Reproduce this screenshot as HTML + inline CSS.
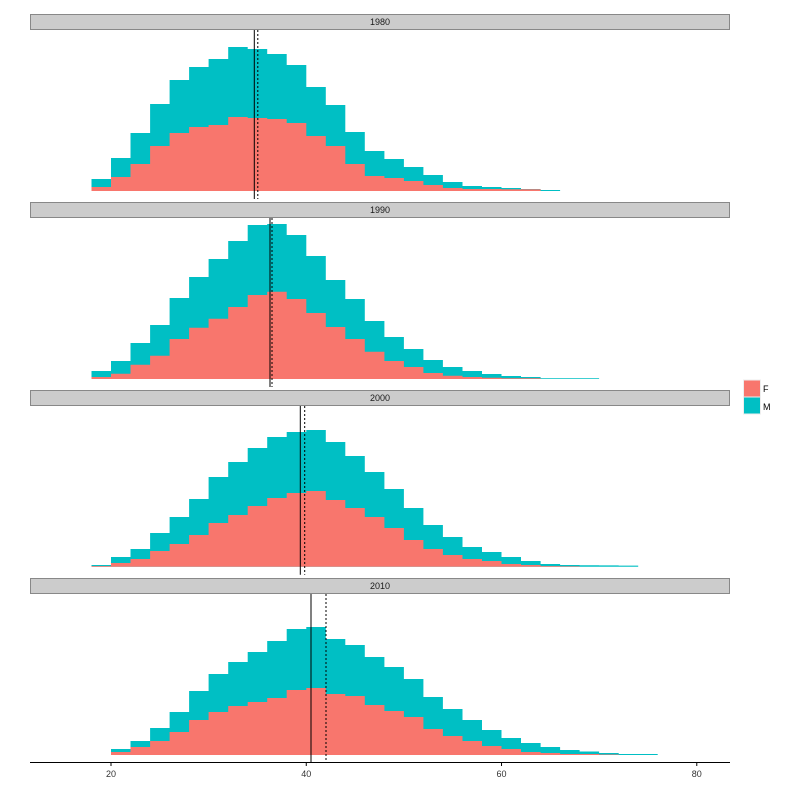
<!DOCTYPE html>
<html><head><meta charset="utf-8"><style>body{margin:0;background:#fff}svg{display:block}text{font-family:"Liberation Sans",sans-serif}</style></head>
<body><svg id="s" width="800" height="800" xmlns="http://www.w3.org/2000/svg"></svg>
<script>
var S=document.getElementById('s'),h='';
function X(v){return 111+(v-20)*9.763;}
var panels=[
 {y0:14,base:191,start:18,lab:'1980',ls:254.3,ld:257.8,
  T:[12,33,58,87,111,124,132,144,142,137,126,104,86,59,40,32,24,16,9,5,4,3,2,1],
  F:[4,14,27,45,58,64,66,74,73,72,68,55,45,27,15,13,10,6,3,2,2,1.7,1.7,0]},
 {y0:202,base:379,start:18,lab:'1990',ls:270,ld:272,
  T:[8,18,36,54,81,102,120,138,154,155,144,123,99,80,58,42,30,19,12,8,5,3,2,0.8,0.8,0.8],
  F:[2,5.3,14.3,23.3,40,51.3,60.3,72,84,87.3,80,66,52,40,27.3,18,12,6,3.3,2,1.3,0.7,0.7,0,0,0]},
 {y0:390,base:566.7,start:18,lab:'2000',ls:300.3,ld:304.7,
  T:[1.7,9.7,17.7,33.7,49.7,67.7,89.7,104.7,118.7,129.7,134.7,136.7,124.7,110.7,94.7,77.7,58.7,41.7,29.7,19.7,14.7,9.7,5.7,2.7,1.7,1.5,1.3,1.1],
  F:[0.7,3.7,7.7,15.7,22.7,31.7,43.7,51.7,60.7,68.7,73.7,75.7,66.7,58.7,49.7,38.7,26.7,17.7,11.7,7.7,5.7,2.7,1.7,0.7,0.5,0,0,0]},
 {y0:578,base:755,start:20,lab:'2010',ls:311,ld:326,
  T:[6,14,27,43,64,81,93,103,114,126,128,116,110,98,88,76,58,46,35,25,17,12,8,5,3.5,2,1,1],
  F:[3,8,14,23,35,43,49,53,57,65,67,61,59,50,44,38,26,19,14,9,6,3,2,1,1,0.5,0,0]}
];
function poly(p,arr){
 var d='M'+X(p.start).toFixed(1)+','+p.base;
 for(var i=0;i<arr.length;i++){var a=X(p.start+2*i),b=X(p.start+2*i+2),y=(p.base-arr[i]).toFixed(1);
  d+=' L'+a.toFixed(1)+','+y+' L'+b.toFixed(1)+','+y;}
 d+=' L'+X(p.start+2*arr.length).toFixed(1)+','+p.base+'Z';return d;}
panels.forEach(function(p){
 h+='<rect x="30.5" y="'+(p.y0+0.5)+'" width="699" height="15" fill="#cccccc" stroke="#888" stroke-width="1"/>';
 h+='<text x="380" y="'+(p.y0+11)+'" font-size="9" text-anchor="middle" fill="#1a1a1a">'+p.lab+'</text>';
 h+='<path d="'+poly(p,p.T)+'" fill="#00BFC4"/>';
 h+='<path d="'+poly(p,p.F)+'" fill="#F8766D"/>';
 var top=p.y0+16,bot=p.base+8;
 h+='<line x1="'+p.ls+'" x2="'+p.ls+'" y1="'+top+'" y2="'+bot+'" stroke="#000" stroke-width="1"/>';
 h+='<line x1="'+p.ld+'" x2="'+p.ld+'" y1="'+top+'" y2="'+bot+'" stroke="#000" stroke-width="1" stroke-dasharray="2,2"/>';
});
h+='<line x1="30" x2="730" y1="762.5" y2="762.5" stroke="#000" stroke-width="1"/>';
[20,40,60,80].forEach(function(v){var x=X(v);h+='<line x1="'+x+'" x2="'+x+'" y1="762" y2="766" stroke="#000"/><text x="'+x+'" y="777" font-size="9" text-anchor="middle" fill="#333">'+v+'</text>';});
h+='<rect x="743.5" y="380" width="17" height="17" fill="#F8766D" stroke="#eee"/><rect x="743.5" y="397" width="17" height="17" fill="#00BFC4" stroke="#eee"/>';
h+='<text x="763" y="392" font-size="9" fill="#000">F</text><text x="763" y="410" font-size="9" fill="#000">M</text>';
S.innerHTML=h;
</script></body></html>
